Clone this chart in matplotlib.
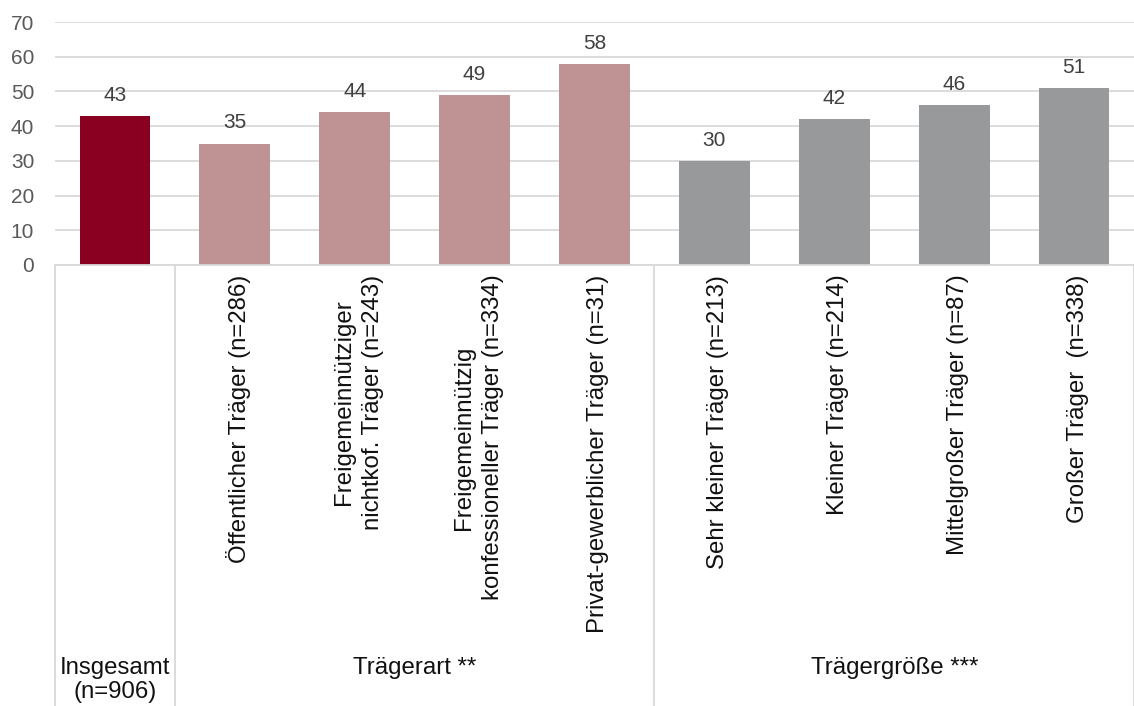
#!/usr/bin/env python3
"""
Bar chart of shares by provider type and provider size, with grouped category axis
"""
import matplotlib.pyplot as plt
from matplotlib.transforms import blended_transform_factory

CATEGORIES = [
    "",
    "Öffentlicher Träger (n=286)",
    "Freigemeinnütziger\nnichtkof. Träger (n=243)",
    "Freigemeinnützig\nkonfessioneller Träger (n=334)",
    "Privat-gewerblicher Träger (n=31)",
    "Sehr kleiner Träger (n=213)",
    "Kleiner Träger (n=214)",
    "Mittelgroßer Träger (n=87)",
    "Großer Träger  (n=338)",
]
VALUES = [43, 35, 44, 49, 58, 30, 42, 46, 51]
GROUPS = ["Insgesamt\n(n=906)", "Trägerart **", "Trägergröße ***"]
GROUP_SPANS = [(0, 0), (1, 4), (5, 8)]

COLORS = ['#8a0021'] + ['#bf9294'] * 4 + ['#98999b'] * 4
LINE_GREY = '#d9d9d9'

plt.rcParams['font.family'] = ['Liberation Sans', 'DejaVu Sans']

fig = plt.figure(figsize=(11.34, 7.06), dpi=100)
ax = fig.add_axes([55 / 1134, 441 / 706, 1079 / 1134, 243 / 706])

x = list(range(len(VALUES)))
ax.bar(x, VALUES, width=0.59, color=COLORS, zorder=2)
for xi, v in zip(x, VALUES):
    ax.annotate(str(v), (xi, v), xytext=(0, 8), textcoords='offset points',
                ha='center', va='bottom', fontsize=15, color='#404040')

ax.set_xlim(-0.5, len(VALUES) - 0.5)
ax.set_ylim(0, 70)
ax.set_yticks(range(0, 71, 10))
ax.tick_params(axis='y', length=0, labelsize=15, labelcolor='#595959', pad=15)
ax.tick_params(axis='x', length=0)
ax.set_xticks([])
ax.grid(axis='y', color=LINE_GREY, linewidth=1.3, zorder=0)
for side in ('left', 'right', 'top'):
    ax.spines[side].set_visible(False)
ax.spines['bottom'].set_color(LINE_GREY)
ax.spines['bottom'].set_linewidth(1.3)

trans = blended_transform_factory(ax.transData, ax.transAxes)

# rotated category labels below the axis
for xi, lab in zip(x, CATEGORIES):
    if lab:
        ax.text(xi + 0.03, -0.04, lab, transform=trans, rotation=90, ha='center',
                va='top', multialignment='center', fontsize=17.3, color='#111111',
                linespacing=1.4)

# group separators and group labels
for xs in (-0.5, 0.5, 4.5, 8.5):
    ax.plot([xs, xs], [0, -1.9], transform=trans, color=LINE_GREY,
            linewidth=1.3, clip_on=False)
for lab, (a, b) in zip(GROUPS, GROUP_SPANS):
    ax.text((a + b) / 2, -1.615, lab, transform=trans, ha='center', va='top',
            fontsize=17.3, color='#111111', linespacing=1.12)

fig.savefig('out.png', dpi=100)
